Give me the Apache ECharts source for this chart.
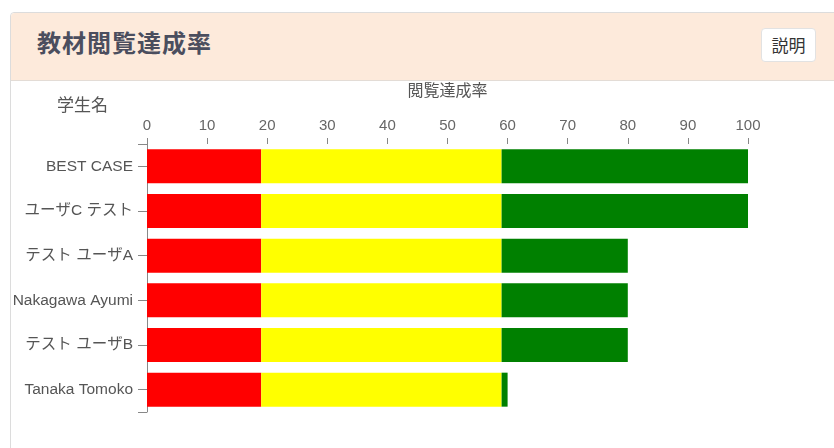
<!DOCTYPE html>
<html>
<head>
<meta charset="utf-8">
<script src="https://cdn.jsdelivr.net/npm/echarts@6/dist/echarts.min.js"></script>
<style>
  html, body { margin: 0; padding: 0; background: #fff; }
  body { width: 834px; height: 448px; position: relative; overflow: hidden;
    font-family: 'Noto Sans CJK JP', 'Noto Sans', sans-serif; }
  .panel { position: absolute; left: 10px; top: 12px; width: 840px; height: 460px;
    border: 1px solid #dcdcdc; border-radius: 4px; background: #fff; }
  .panel-head { height: 67px; background: #fdeadb; border-bottom: 1px solid #e3dcd6;
    border-radius: 4px 4px 0 0; position: relative; }
  .panel-title { position: absolute; left: 26px; top: 13px; font-size: 24px; font-weight: bold;
    color: #4b4e5e; letter-spacing: 1px; line-height: 32px; }
  .btn { position: absolute; left: 750px; top: 15px; width: 55px; height: 34px; box-sizing: border-box;
    background: #fff; border: 1px solid #e2e2e2; border-radius: 4px; font-size: 17px;
    color: #333; text-align: center; line-height: 32px; }
  #chart { position: absolute; left: 0; top: 0; width: 834px; height: 448px; }
</style>
</head>
<body>
<div class="panel">
  <div class="panel-head">
    <div class="panel-title">教材閲覧達成率</div>
    <div class="btn">説明</div>
  </div>
</div>
<div id="chart"></div>
<script>
const students = ['BEST CASE', 'ユーザC テスト', 'テスト ユーザA', 'Nakagawa Ayumi', 'テスト ユーザB', 'Tanaka Tomoko'];
const redPart = [19, 19, 19, 19, 19, 19];
const yellowPart = [40, 40, 40, 40, 40, 40];
const greenPart = [41, 41, 21, 21, 21, 1];
const xTicks = { min: 0, max: 100, interval: 10 };

const chart = echarts.init(document.getElementById('chart'), null, { renderer: 'canvas' });

const labelFont = "'Liberation Sans', Arial, 'Noto Sans CJK JP', sans-serif";

const barSeries = (name, data, color) => ({
  name: name,
  type: 'bar',
  stack: 'rate',
  barWidth: 34,
  yAxisIndex: 0,
  itemStyle: { color: color },
  data: data
});

const option = {
  animation: false,
  backgroundColor: 'transparent',
  textStyle: { fontFamily: labelFont },
  grid: { left: 147, right: 86, top: 144, bottom: 36 },
  graphic: [
    {
      type: 'text',
      left: 57,
      top: 96,
      style: { text: '学生名', fill: '#555', font: "17px 'Noto Sans CJK JP', sans-serif" }
    }
  ],
  xAxis: {
    type: 'value',
    position: 'top',
    min: xTicks.min,
    max: xTicks.max,
    interval: xTicks.interval,
    name: '閲覧達成率',
    nameLocation: 'middle',
    nameGap: 46,
    nameTextStyle: { color: '#555', fontSize: 16, fontFamily: "'Noto Sans CJK JP', sans-serif" },
    axisLine: { show: false },
    axisTick: { show: true, length: 6, lineStyle: { color: '#888' } },
    axisLabel: { color: '#666', fontSize: 15, margin: 11 },
    splitLine: { show: false }
  },
  yAxis: [
    {
      type: 'category',
      inverse: true,
      data: students,
      axisLine: { show: true, lineStyle: { color: '#888' } },
      axisTick: { show: true, alignWithLabel: true, length: 9, lineStyle: { color: '#888' } },
      axisLabel: { color: '#555', fontSize: 15.5, margin: 14 }
    },
    {
      type: 'category',
      inverse: true,
      position: 'left',
      data: students,
      axisLine: { show: false },
      axisLabel: { show: false },
      axisTick: {
        show: true,
        length: 9,
        lineStyle: { color: '#888' },
        interval: (i) => i === 0 || i === students.length
      }
    }
  ],
  series: [
    barSeries('red', redPart, '#ff0000'),
    barSeries('yellow', yellowPart, '#ffff00'),
    barSeries('green', greenPart, '#008000')
  ]
};

chart.setOption(option);
</script>
</body>
</html>
